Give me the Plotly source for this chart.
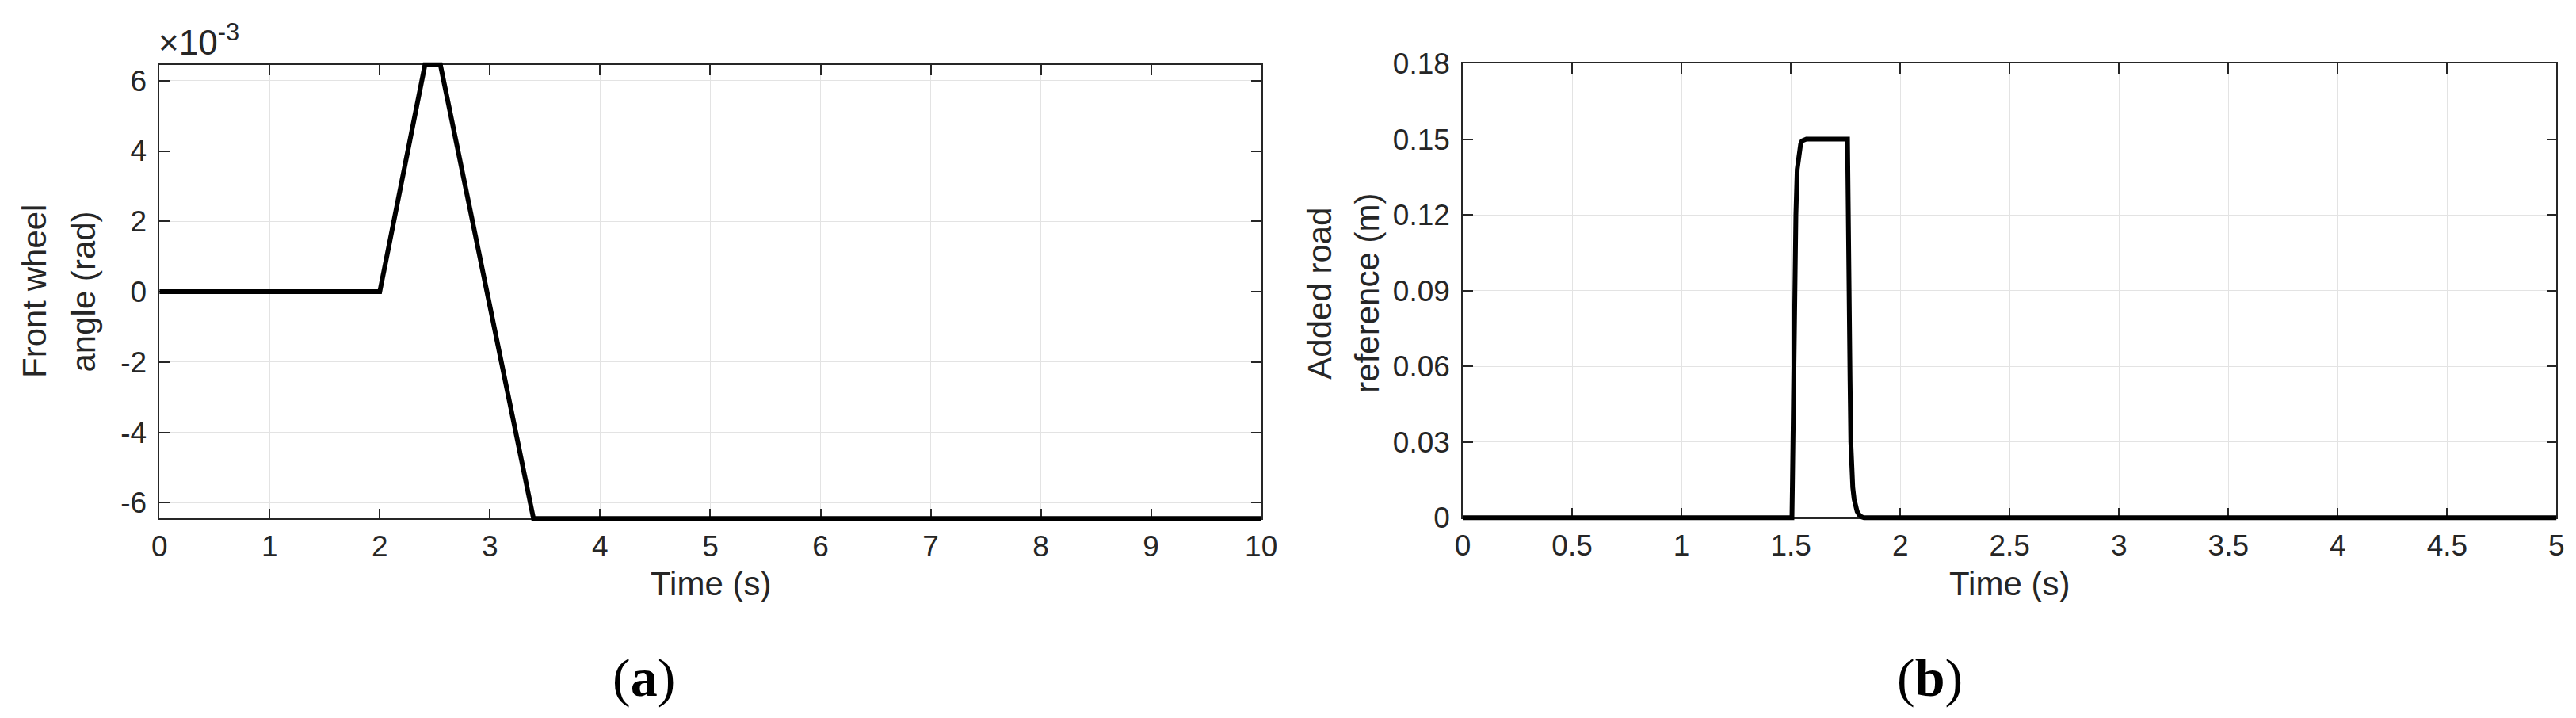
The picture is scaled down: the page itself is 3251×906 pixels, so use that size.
import plotly.graph_objects as go

# ---------------- data ----------------
# (a) front wheel angle (rad)
t_a = [0.0, 2.0, 2.41, 2.55, 3.395, 10.0]
angle_a = [0.0, 0.0, 0.00645, 0.00645, -0.00645, -0.00645]

# (b) added road reference (m)
t_b = [0.0, 1.505, 1.507, 1.512, 1.517, 1.523, 1.529, 1.5375, 1.545, 1.551, 1.560, 1.571,
       1.759, 1.762, 1.766, 1.7706, 1.774, 1.778, 1.783, 1.789, 1.795, 1.803, 1.812, 1.822, 1.835, 5.0]
road_b = [0.0, 0.0, 0.012, 0.055, 0.090, 0.120, 0.138, 0.146, 0.1482, 0.1493, 0.1498, 0.15,
          0.15, 0.105, 0.080, 0.054, 0.030, 0.020, 0.012, 0.0075, 0.0048, 0.0025, 0.0012, 0.0004, 0.0, 0.0]

ya_ticks = [-0.006, -0.004, -0.002, 0.0, 0.002, 0.004, 0.006]
ya_labels = ["-6", "-4", "-2", "0", "2", "4", "6"]
xa_ticks = [0, 1, 2, 3, 4, 5, 6, 7, 8, 9, 10]
yb_ticks = [0, 0.03, 0.06, 0.09, 0.12, 0.15, 0.18]
yb_labels = ["0", "0.03", "0.06", "0.09", "0.12", "0.15", "0.18"]
xb_ticks = [0, 0.5, 1, 1.5, 2, 2.5, 3, 3.5, 4, 4.5, 5]
xb_labels = ["0", "0.5", "1", "1.5", "2", "2.5", "3", "3.5", "4", "4.5", "5"]

# ---------------- figure ----------------
W, H = 3251, 906
FONT = "Liberation Sans, Arial, Helvetica, sans-serif"
TXT = "#262626"
GRID = "#e3e3e3"

def px_x(p):
    return p / W

def px_y(p):
    return 1 - p / H

# plot-area boxes in pixels (left, right, top, bottom)
A_box = (193.2, 1583.7, 73.8, 646.3)
B_box = (1838.0, 3218.4, 72.0, 645.3)
A_yr = [-0.00645, 0.00645]
B_yr = [0.0, 0.18]
PAD = 6  # px: data layer extends beyond the frame so thick lines on the edge aren't cut

def padded_y(box, yr):
    top, bot = box[2], box[3]
    per_px = (yr[1] - yr[0]) / (bot - top)
    dom = [px_y(bot + PAD), px_y(top - PAD)]
    rng = [yr[0] - PAD * per_px, yr[1] + PAD * per_px]
    return dom, rng

fig = go.Figure()
# frame/grid subplots (invisible copies so the axes are drawn)
fig.add_trace(go.Scatter(x=t_a, y=angle_a, mode="lines", opacity=0, line=dict(width=0),
                         hoverinfo="skip", xaxis="x", yaxis="y", showlegend=False))
fig.add_trace(go.Scatter(x=t_b, y=road_b, mode="lines", opacity=0, line=dict(width=0),
                         hoverinfo="skip", xaxis="x2", yaxis="y2", showlegend=False))
# visible data lines on unclipped overlay subplots
fig.add_trace(go.Scatter(x=t_a, y=angle_a, mode="lines", line=dict(color="black", width=6),
                         xaxis="x3", yaxis="y3", showlegend=False))
fig.add_trace(go.Scatter(x=t_b, y=road_b, mode="lines", line=dict(color="black", width=6),
                         xaxis="x4", yaxis="y4", showlegend=False))

axis_common = dict(
    showline=True, linecolor=TXT, linewidth=1.5, mirror="ticks",
    ticks="inside", ticklen=13, tickwidth=1.5, tickcolor=TXT,
    showgrid=True, gridcolor=GRID, gridwidth=1.2,
    zeroline=False,
    tickfont=dict(family=FONT, size=37, color=TXT),
)
hidden = dict(visible=False, showgrid=False, zeroline=False, fixedrange=True)

dA, rA = padded_y(A_box, A_yr)
dB, rB = padded_y(B_box, B_yr)

fig.update_layout(
    width=W, height=H,
    margin=dict(l=0, r=0, t=0, b=0, autoexpand=False),
    paper_bgcolor="white", plot_bgcolor="rgba(0,0,0,0)",
    xaxis=dict(domain=[px_x(A_box[0]), px_x(A_box[1])], range=[0, 10], tickvals=xa_ticks,
               anchor="y", ticklabelstandoff=2, **axis_common),
    yaxis=dict(domain=[px_y(A_box[3]), px_y(A_box[2])], range=A_yr, tickvals=ya_ticks,
               ticktext=ya_labels, anchor="x", ticklabelstandoff=7, **axis_common),
    xaxis2=dict(domain=[px_x(B_box[0]), px_x(B_box[1])], range=[0, 5], tickvals=xb_ticks, ticktext=xb_labels,
                anchor="y2", ticklabelstandoff=2, **axis_common),
    yaxis2=dict(domain=[px_y(B_box[3]), px_y(B_box[2])], range=B_yr, tickvals=yb_ticks, ticktext=yb_labels,
                anchor="x2", ticklabelstandoff=7, **axis_common),
    xaxis3=dict(domain=[px_x(A_box[0]), px_x(A_box[1])], range=[0, 10], anchor="y3", **hidden),
    yaxis3=dict(domain=dA, range=rA, anchor="x3", **hidden),
    xaxis4=dict(domain=[px_x(B_box[0]), px_x(B_box[1])], range=[0, 5], anchor="y4", **hidden),
    yaxis4=dict(domain=dB, range=rB, anchor="x4", **hidden),
)

def ann(text, x, y, size, rot=0, xanchor="center", yanchor="middle", family=FONT, color=TXT):
    fig.add_annotation(text=text, x=px_x(x), y=px_y(y), xref="paper", yref="paper",
                       showarrow=False, textangle=rot, xanchor=xanchor, yanchor=yanchor,
                       font=dict(family=family, size=size, color=color))

# axis titles
ann("Time (s)", 888.5, 728, 42)
ann("Time (s)", 2528, 728, 42)
ann("Front wheel", 35, 360, 42, rot=-90)
ann("angle (rad)", 96.5, 360, 42, rot=-90)
ann("Added road", 1656.7, 362, 42, rot=-90)
ann("reference (m)", 1716.7, 362, 42, rot=-90)

# exponent label
ann("×10<sup>-3</sup>", 190, 72, 44, xanchor="left", yanchor="bottom")

# panel labels
SERIF = "Liberation Serif, Times New Roman, serif"
ann("(<b>a</b>)", 804, 847, 68, family=SERIF, color="black")
ann("(<b>b</b>)", 2427, 847, 68, family=SERIF, color="black")

fig.write_html("out.html")
